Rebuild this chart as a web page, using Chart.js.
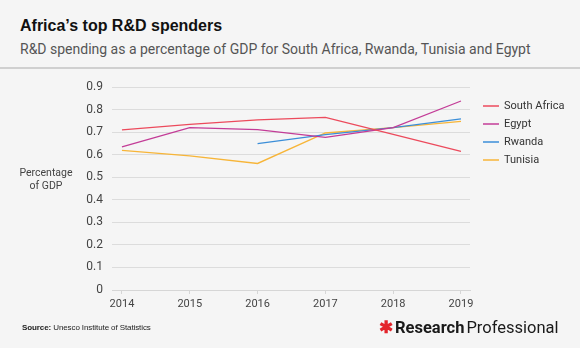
<!DOCTYPE html>
<html>
<head>
<meta charset="utf-8">
<script src="https://cdn.jsdelivr.net/npm/chart.js@4.4.1/dist/chart.umd.min.js"></script>
<style>
  html, body { margin: 0; padding: 0; }
  body { width: 580px; height: 348px; background: #f5f5f5; position: relative; overflow: hidden; font-family: Roboto, "Liberation Sans", sans-serif; }
  #wrap { position: absolute; left: 0; top: 0; width: 580px; height: 348px; }
  .title { position: absolute; left: 20px; top: 17px; font-family: "Liberation Sans", Arial, sans-serif; font-size: 16px; font-weight: 700; color: #111; }
  .subtitle { position: absolute; left: 20px; top: 41px; font-size: 14px; color: #555; }
  .rule { position: absolute; left: 0; top: 67px; width: 580px; height: 2px; background: #d0d0d0; }
  .ytitle { position: absolute; left: 10px; top: 166px; width: 72px; text-align: center; font-size: 10.5px; line-height: 13px; color: #444; }
  .source { position: absolute; left: 22px; top: 323px; font-family: "Liberation Sans", Arial, sans-serif; font-size: 8px; color: #222; letter-spacing: -0.1px; }
  .source b { font-weight: 700; }
  .logo { position: absolute; left: 379px; top: 318px; font-size: 16.5px; color: #1a1a1a; white-space: nowrap; }
  .logo .star { color: #e3242b; font-weight: 900; margin-right: 2px; }
  .logo b { font-weight: 700; margin-right: 2px; }
</style>
</head>
<body>
<div class="title">Africa’s top R&amp;D spenders</div>
<div class="subtitle">R&amp;D spending as a percentage of GDP for South Africa, Rwanda, Tunisia and Egypt</div>
<div class="rule"></div>
<div id="wrap"><canvas id="c" width="580" height="348"></canvas></div>
<div class="ytitle">Percentage<br>of GDP</div>
<div class="source"><b>Source:</b> Unesco Institute of Statistics</div>
<div class="logo"><span class="star">✱</span><b>Research</b>Professional</div>
<script>
// Years on the horizontal axis
const years = [2014, 2015, 2016, 2017, 2018, 2019];

// R&D spending, % of GDP
const southAfrica = [0.71, 0.734, 0.754, 0.765, 0.69, 0.615];
const egypt       = [0.635, 0.72, 0.711, 0.677, 0.72, 0.838];
const rwanda      = [null, null, 0.649, 0.689, 0.72, 0.759];
const tunisia     = [0.619, 0.595, 0.561, 0.696, 0.72, 0.748];

const yTicks = [0, 0.1, 0.2, 0.3, 0.4, 0.5, 0.6, 0.7, 0.8, 0.9];

const pts = vals => years.map((yr, i) => ({ x: yr, y: vals[i] }));

// Legend drawn to the right of the plot
const sideLegend = {
  id: 'sideLegend',
  afterDraw(chart) {
    const ctx = chart.ctx;
    ctx.save();
    ctx.font = '11px Roboto, "Liberation Sans", sans-serif';
    ctx.textBaseline = 'middle';
    chart.data.datasets.forEach((ds, i) => {
      const y = 106 + i * 18;
      ctx.strokeStyle = ds.borderColor;
      ctx.lineWidth = 1.5;
      ctx.beginPath();
      ctx.moveTo(483, y);
      ctx.lineTo(499, y);
      ctx.stroke();
      ctx.fillStyle = '#333';
      ctx.fillText(ds.label, 504, y);
    });
    ctx.restore();
  }
};

new Chart(document.getElementById('c'), {
  type: 'line',
  data: {
    datasets: [
      { label: 'South Africa', data: pts(southAfrica), borderColor: '#ec4a5c' },
      { label: 'Egypt',        data: pts(egypt),       borderColor: '#c33c97' },
      { label: 'Rwanda',       data: pts(rwanda),      borderColor: '#3b8ed8' },
      { label: 'Tunisia',      data: pts(tunisia),     borderColor: '#f7b538' }
    ]
  },
  options: {
    responsive: false,
    animation: false,
    devicePixelRatio: 1,
    elements: {
      line: { borderWidth: 1.3, tension: 0, fill: false },
      point: { radius: 0, hoverRadius: 0 }
    },
    layout: { padding: { left: 0, right: 110, top: 87, bottom: 0 } },
    plugins: { legend: { display: false }, tooltip: { enabled: false } },
    scales: {
      x: {
        type: 'linear',
        min: 2013.853,
        max: 2019.133,
        afterBuildTicks: axis => { axis.ticks = years.map(v => ({ value: v })); },
        afterFit: s => { s.height = 58; },
        grid: { drawOnChartArea: false, drawTicks: true, tickLength: 4, color: '#d6d6d6' },
        border: { display: true, color: '#d6d6d6' },
        ticks: {
          callback: v => String(v),
          padding: 4,
          maxRotation: 0,
          color: '#444',
          font: { family: 'Roboto, "Liberation Sans", sans-serif', size: 11 }
        }
      },
      y: {
        min: 0,
        max: 0.9,
        afterBuildTicks: axis => { axis.ticks = yTicks.map(v => ({ value: v })); },
        afterFit: s => { s.width = 112; },
        grid: { color: '#dcdcdc', drawTicks: false },
        border: { display: false },
        ticks: {
          callback: v => (v === 0 ? '0' : v.toFixed(1)),
          padding: 9,
          color: '#444',
          font: { family: 'Roboto, "Liberation Sans", sans-serif', size: 12 }
        }
      }
    }
  },
  plugins: [sideLegend]
});
</script>
</body>
</html>
